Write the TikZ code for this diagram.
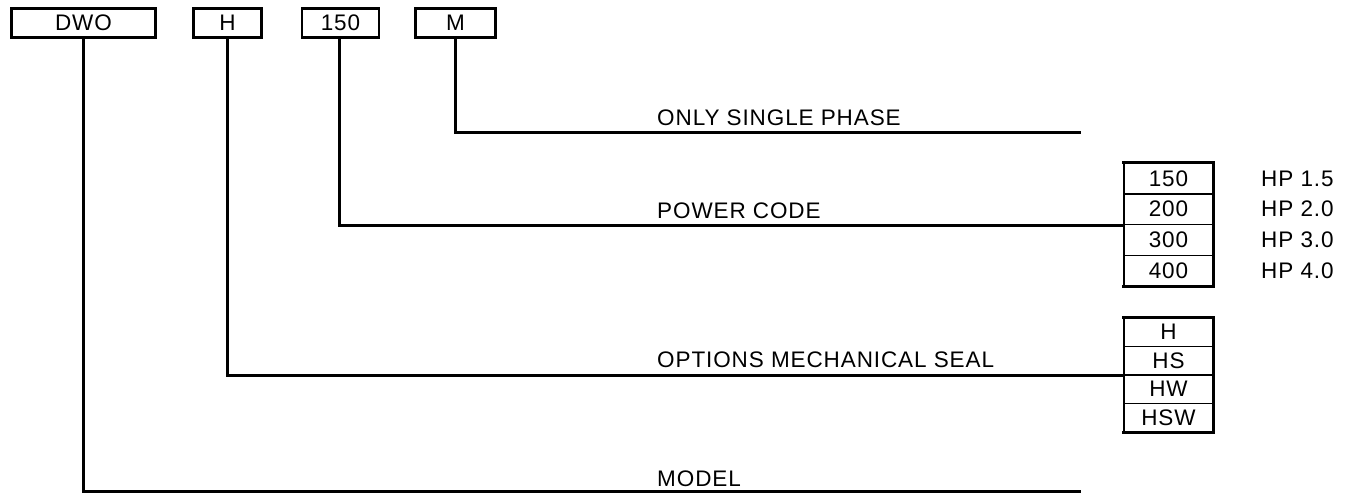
\documentclass[tikz,border=0pt]{standalone}
\usepackage{fontspec}
\setmainfont{Liberation Sans}[LetterSpace=4]
\begin{document}
\begin{tikzpicture}[x=1pt,y=-1pt,
  txt/.style={font=\fontsize{22.5}{26}\selectfont, inner sep=0pt},
  topbox/.style={txt, draw, line width=2.6pt, minimum height=29pt},
  cell/.style={txt, draw, line width=1.4pt, minimum width=89pt},
  pcell/.style={cell, minimum height=30.75pt},
  ocell/.style={cell, minimum height=28.5pt},
  conn/.style={line width=3pt},
  frame/.style={line width=3pt, line cap=rect},
  lbl/.style={txt, anchor=base west},
  hp/.style={txt, anchor=west}]
\useasboundingbox (0,0) rectangle (1349,493);

% top code boxes
\node[topbox, minimum width=144pt] (dwo) at (83.5,23) {DWO};
\node[topbox, minimum width=68pt] (h) at (227.5,23) {H};
\node[topbox, minimum width=77pt] (p) at (340.5,23) {150};
\node[topbox, minimum width=80pt] (m) at (455.5,23) {M};

% power code table
\node[pcell] (c150) at (1168.5,178.5) {150};
\node[pcell] (c200) at (1168.5,209.25) {200};
\node[pcell] (c300) at (1168.5,240) {300};
\node[pcell] (c400) at (1168.5,270.75) {400};
\draw[frame] (c150.north west) -- (c150.north east) -- (c400.south east) -- (c400.south west);
\node[hp] (hp15) at (1261,178.5) {HP 1.5};
\node[hp] (hp20) at (1261,209.25) {HP 2.0};
\node[hp] (hp30) at (1261,240) {HP 3.0};
\node[hp] (hp40) at (1261,270.75) {HP 4.0};

% options table
\node[ocell] (oh) at (1168.5,332.25) {H};
\node[ocell] (ohs) at (1168.5,360.75) {HS};
\node[ocell] (ohw) at (1168.5,389.25) {HW};
\node[ocell] (ohsw) at (1168.5,417.75) {HSW};
\draw[frame] (oh.north west) -- (oh.north east) -- (ohsw.south east) -- (ohsw.south west);

% line end points
\coordinate (mend) at (1081,132);
\coordinate (modend) at (1081,491.5);

% connectors
\draw[conn] (m.south) |- (mend);
\draw[conn] ([xshift=-1.5pt]p.south) |- (c200.south west);
\draw[conn] (h.south) |- (ohs.south west);
\draw[conn] (dwo.south) |- (modend);

% labels
\node[lbl] (lsingle) at (657,125) {ONLY SINGLE PHASE};
\node[lbl] (lpower) at (657,218) {POWER CODE};
\node[lbl] (lopt) at (657,367) {OPTIONS MECHANICAL SEAL};
\node[lbl] (lmodel) at (657,486.5) {MODEL};
\end{tikzpicture}
\end{document}
